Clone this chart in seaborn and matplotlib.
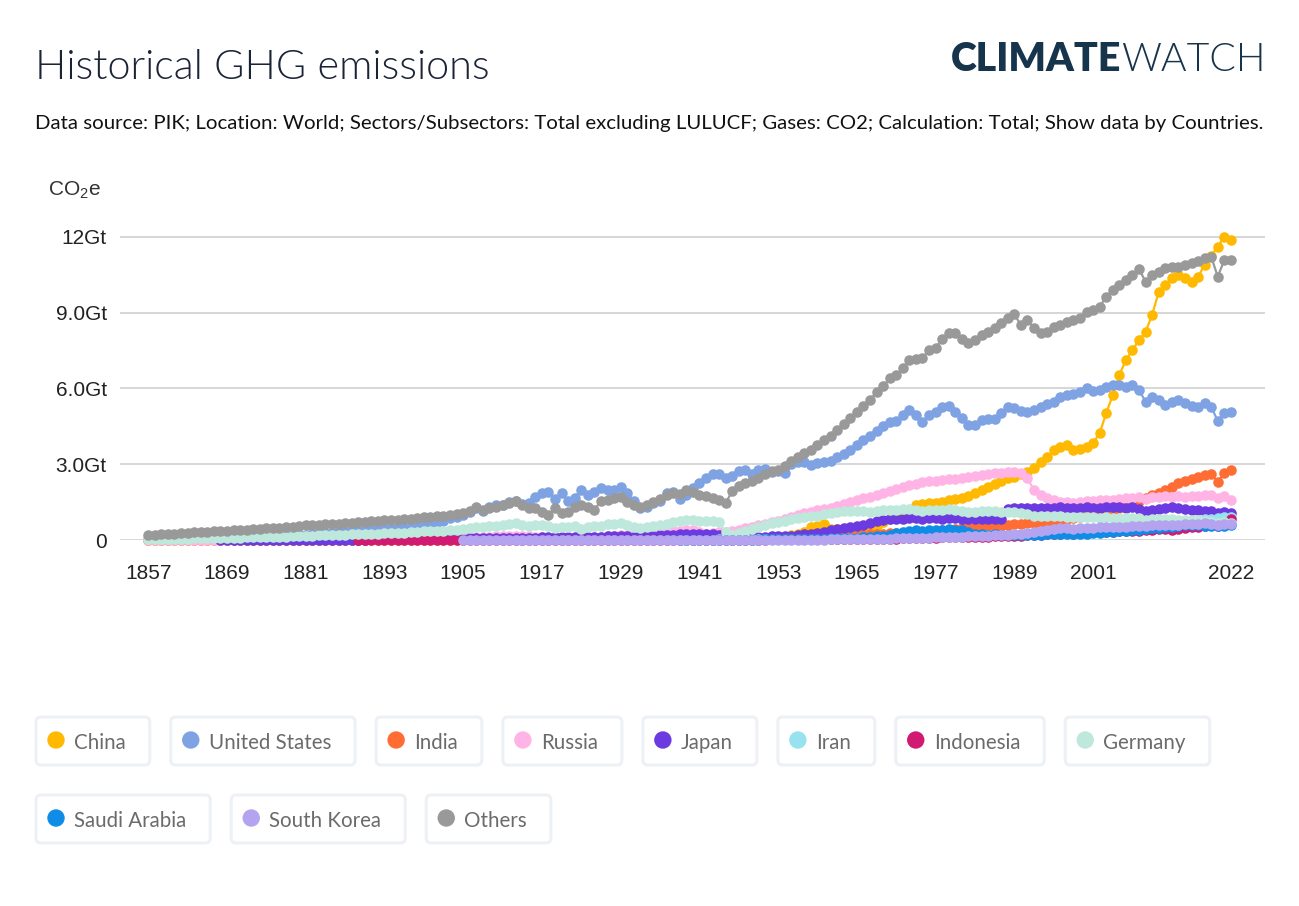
import matplotlib
matplotlib.use("Agg")
import matplotlib.pyplot as plt
from matplotlib.patches import FancyBboxPatch, Circle
import numpy as np
import pandas as pd
import seaborn as sns

# values in Gt CO2e, one per year 1857..2022 (rows of 10 years)
years = list(range(1857, 2023))

china = [
    0.01, 0.01, 0.01, 0.01, 0.01, 0.01, 0.01, 0.01, 0.01, 0.01,
    0.01, 0.01, 0.01, 0.01, 0.01, 0.01, 0.01, 0.01, 0.01, 0.01,
    0.01, 0.01, 0.01, 0.01, 0.01, 0.01, 0.01, 0.01, 0.01, 0.01,
    0.01, 0.01, 0.01, 0.01, 0.01, 0.01, 0.01, 0.01, 0.01, 0.01,
    0.01, 0.01, 0.01, 0.01, 0.01, 0.01, 0.01, 0.01, 0.02, 0.02,
    0.02, 0.02, 0.02, 0.02, 0.02, 0.02, 0.03, 0.03, 0.03, 0.03,
    0.03, 0.03, 0.03, 0.03, 0.03, 0.03, 0.03, 0.03, 0.03, 0.03,
    0.03, 0.03, 0.03, 0.03, 0.03, 0.03, 0.04, 0.04, 0.04, 0.04,
    0.04, 0.04, 0.05, 0.05, 0.05, 0.05, 0.05, 0.04, 0.03, 0.03,
    0.03, 0.04, 0.04, 0.06, 0.07, 0.08, 0.10, 0.12, 0.18, 0.22,
    0.30, 0.50, 0.56, 0.62, 0.45, 0.42, 0.44, 0.46, 0.50, 0.55,
    0.50, 0.56, 0.70, 0.85, 0.95, 1.02, 1.10, 1.40, 1.42, 1.45,
    1.48, 1.52, 1.58, 1.62, 1.66, 1.75, 1.85, 1.98, 2.11, 2.22,
    2.32, 2.45, 2.51, 2.60, 2.71, 2.84, 3.10, 3.30, 3.55, 3.70,
    3.76, 3.56, 3.62, 3.70, 3.83, 4.23, 5.02, 5.74, 6.53, 7.13,
    7.52, 7.92, 8.25, 8.91, 9.83, 10.10, 10.36, 10.50, 10.36, 10.23,
    10.43, 10.89, 11.25, 11.62, 12.01, 11.88,
]

united_states = [
    0.03, 0.03, 0.04, 0.04, 0.04, 0.04, 0.05, 0.05, 0.05, 0.06,
    0.07, 0.07, 0.08, 0.09, 0.09, 0.10, 0.11, 0.11, 0.11, 0.12,
    0.13, 0.14, 0.16, 0.19, 0.21, 0.24, 0.27, 0.28, 0.28, 0.30,
    0.33, 0.37, 0.36, 0.40, 0.42, 0.45, 0.46, 0.43, 0.48, 0.49,
    0.52, 0.56, 0.62, 0.67, 0.72, 0.76, 0.88, 0.90, 0.98, 1.10,
    1.25, 1.15, 1.30, 1.39, 1.38, 1.50, 1.55, 1.42, 1.48, 1.70,
    1.85, 1.90, 1.62, 1.85, 1.55, 1.68, 2.00, 1.80, 1.90, 2.05,
    1.98, 1.98, 2.10, 1.86, 1.55, 1.25, 1.30, 1.45, 1.55, 1.85,
    1.92, 1.62, 1.80, 2.05, 2.25, 2.45, 2.60, 2.62, 2.45, 2.55,
    2.75, 2.78, 2.62, 2.77, 2.80, 2.71, 2.75, 2.64, 3.00, 3.10,
    3.08, 2.97, 3.04, 3.10, 3.12, 3.30, 3.42, 3.58, 3.76, 3.96,
    4.10, 4.30, 4.50, 4.69, 4.72, 4.95, 5.15, 4.95, 4.69, 4.95,
    5.08, 5.28, 5.30, 5.08, 4.82, 4.55, 4.55, 4.75, 4.78, 4.78,
    5.02, 5.25, 5.22, 5.12, 5.05, 5.15, 5.28, 5.38, 5.48, 5.65,
    5.74, 5.80, 5.85, 6.02, 5.90, 5.95, 6.05, 6.14, 6.12, 6.07,
    6.14, 5.94, 5.48, 5.68, 5.54, 5.35, 5.48, 5.54, 5.41, 5.30,
    5.25, 5.41, 5.28, 4.71, 5.02, 5.08,
]

india = [
    0.01, 0.01, 0.01, 0.01, 0.01, 0.01, 0.01, 0.01, 0.01, 0.01,
    0.01, 0.01, 0.01, 0.01, 0.01, 0.01, 0.01, 0.01, 0.01, 0.01,
    0.01, 0.01, 0.01, 0.01, 0.01, 0.01, 0.01, 0.01, 0.01, 0.01,
    0.01, 0.01, 0.01, 0.01, 0.02, 0.02, 0.02, 0.02, 0.02, 0.02,
    0.02, 0.02, 0.02, 0.03, 0.03, 0.03, 0.03, 0.03, 0.03, 0.03,
    0.04, 0.04, 0.04, 0.04, 0.04, 0.04, 0.05, 0.05, 0.05, 0.05,
    0.05, 0.05, 0.05, 0.05, 0.05, 0.05, 0.05, 0.05, 0.05, 0.06,
    0.06, 0.06, 0.06, 0.06, 0.06, 0.05, 0.05, 0.06, 0.06, 0.06,
    0.07, 0.07, 0.07, 0.07, 0.07, 0.07, 0.07, 0.07, 0.07, 0.07,
    0.07, 0.07, 0.07, 0.07, 0.08, 0.08, 0.08, 0.09, 0.09, 0.10,
    0.10, 0.11, 0.12, 0.13, 0.14, 0.15, 0.17, 0.18, 0.20, 0.21,
    0.22, 0.23, 0.24, 0.26, 0.27, 0.28, 0.30, 0.31, 0.33, 0.35,
    0.36, 0.38, 0.41, 0.44, 0.46, 0.48, 0.50, 0.52, 0.54, 0.56,
    0.57, 0.60, 0.62, 0.64, 0.66, 0.69, 0.71, 0.74, 0.77, 0.80,
    0.84, 0.88, 0.92, 0.96, 1.00, 1.05, 1.10, 1.18, 1.25, 1.33,
    1.42, 1.55, 1.68, 1.78, 1.88, 2.00, 2.11, 2.25, 2.32, 2.42,
    2.51, 2.57, 2.60, 2.31, 2.64, 2.77,
]

russia = [
    0.01, 0.01, 0.01, 0.01, 0.01, 0.01, 0.01, 0.01, 0.01, 0.01,
    0.01, 0.01, 0.01, 0.02, 0.02, 0.02, 0.02, 0.02, 0.02, 0.02,
    0.02, 0.02, 0.03, 0.03, 0.03, 0.03, 0.03, 0.04, 0.04, 0.04,
    0.04, 0.05, 0.05, 0.05, 0.05, 0.06, 0.06, 0.07, 0.07, 0.08,
    0.08, 0.09, 0.10, 0.10, 0.10, 0.10, 0.10, 0.11, 0.11, 0.12,
    0.13, 0.13, 0.13, 0.14, 0.14, 0.15, 0.16, 0.15, 0.14, 0.13,
    0.10, 0.06, 0.05, 0.05, 0.06, 0.06, 0.07, 0.08, 0.10, 0.12,
    0.14, 0.16, 0.18, 0.21, 0.24, 0.26, 0.28, 0.30, 0.32, 0.35,
    0.36, 0.37, 0.38, 0.40, 0.33, 0.25, 0.28, 0.32, 0.30, 0.35,
    0.40, 0.46, 0.52, 0.58, 0.64, 0.70, 0.76, 0.84, 0.92, 1.00,
    1.06, 1.12, 1.18, 1.22, 1.28, 1.35, 1.42, 1.50, 1.58, 1.65,
    1.72, 1.80, 1.88, 1.95, 2.02, 2.10, 2.18, 2.22, 2.28, 2.32,
    2.35, 2.38, 2.40, 2.42, 2.44, 2.48, 2.52, 2.57, 2.60, 2.64,
    2.66, 2.70, 2.71, 2.64, 2.44, 1.98, 1.78, 1.68, 1.60, 1.52,
    1.50, 1.48, 1.52, 1.55, 1.56, 1.58, 1.58, 1.60, 1.62, 1.65,
    1.67, 1.70, 1.62, 1.70, 1.72, 1.74, 1.72, 1.73, 1.70, 1.74,
    1.76, 1.78, 1.78, 1.65, 1.75, 1.58,
]

japan = [
    None, None, None, None, None, None, None, None, None, None,
    None, 0.00, 0.00, 0.00, 0.00, 0.00, 0.00, 0.00, 0.00, 0.00,
    0.00, 0.00, 0.00, 0.00, 0.00, 0.00, 0.01, 0.01, 0.01, 0.01,
    0.01, 0.01, 0.01, 0.01, 0.02, 0.02, 0.02, 0.02, 0.02, 0.02,
    0.03, 0.03, 0.03, 0.04, 0.04, 0.04, 0.05, 0.05, 0.05, 0.06,
    0.06, 0.06, 0.06, 0.06, 0.07, 0.07, 0.08, 0.08, 0.08, 0.09,
    0.10, 0.10, 0.11, 0.11, 0.11, 0.12, 0.12, 0.12, 0.13, 0.13,
    0.14, 0.14, 0.15, 0.14, 0.13, 0.14, 0.15, 0.16, 0.18, 0.19,
    0.21, 0.22, 0.23, 0.24, 0.24, 0.23, 0.22, 0.20, 0.08, 0.06,
    0.08, 0.09, 0.10, 0.11, 0.13, 0.14, 0.15, 0.15, 0.16, 0.18,
    0.22, 0.24, 0.28, 0.32, 0.38, 0.42, 0.46, 0.50, 0.54, 0.59,
    0.66, 0.74, 0.79, 0.82, 0.83, 0.85, 0.88, 0.86, 0.84, 0.86,
    0.86, 0.84, 0.87, 0.86, 0.84, 0.82, 0.82, 0.85, 0.84, 0.83,
    0.84, 1.22, 1.25, 1.25, 1.26, 1.27, 1.26, 1.28, 1.27, 1.29,
    1.28, 1.25, 1.27, 1.29, 1.27, 1.28, 1.30, 1.29, 1.29, 1.27,
    1.30, 1.22, 1.15, 1.20, 1.24, 1.28, 1.30, 1.25, 1.22, 1.20,
    1.18, 1.16, 1.14, 1.08, 1.10, 1.08,
]

iran = [
    None, None, None, None, None, None, None, None, None, None,
    None, None, None, None, None, None, None, None, None, None,
    None, None, None, None, None, None, None, None, None, None,
    None, None, None, None, None, None, None, None, None, None,
    None, None, None, None, None, None, None, None, None, None,
    None, None, None, None, None, None, 0.00, 0.00, 0.00, 0.00,
    0.00, 0.00, 0.00, 0.00, 0.00, 0.00, 0.01, 0.01, 0.01, 0.01,
    0.01, 0.01, 0.01, 0.01, 0.01, 0.01, 0.01, 0.01, 0.01, 0.01,
    0.01, 0.01, 0.01, 0.01, 0.01, 0.01, 0.01, 0.02, 0.02, 0.02,
    0.02, 0.02, 0.02, 0.02, 0.02, 0.02, 0.02, 0.02, 0.03, 0.03,
    0.03, 0.03, 0.04, 0.04, 0.04, 0.05, 0.05, 0.06, 0.06, 0.07,
    0.08, 0.09, 0.10, 0.12, 0.14, 0.16, 0.18, 0.18, 0.19, 0.20,
    0.20, 0.18, 0.16, 0.14, 0.13, 0.15, 0.17, 0.18, 0.18, 0.19,
    0.20, 0.21, 0.22, 0.24, 0.26, 0.27, 0.29, 0.30, 0.31, 0.32,
    0.33, 0.35, 0.37, 0.40, 0.42, 0.45, 0.48, 0.52, 0.55, 0.58,
    0.61, 0.64, 0.66, 0.68, 0.70, 0.71, 0.72, 0.74, 0.75, 0.77,
    0.80, 0.82, 0.84, 0.86, 0.90, 0.92,
]

indonesia = [
    None, None, None, None, None, None, None, None, None, None,
    None, None, None, None, None, None, None, None, None, None,
    None, None, None, None, None, None, None, None, None, None,
    None, None, 0.00, 0.00, 0.00, 0.00, 0.00, 0.00, 0.00, 0.00,
    0.00, 0.00, 0.00, 0.00, 0.00, 0.00, 0.00, 0.00, 0.00, 0.00,
    0.00, 0.00, 0.00, 0.00, 0.00, 0.01, 0.01, 0.01, 0.01, 0.01,
    0.01, 0.01, 0.01, 0.01, 0.01, 0.01, 0.01, 0.01, 0.01, 0.01,
    0.01, 0.01, 0.01, 0.01, 0.01, 0.01, 0.01, 0.01, 0.01, 0.01,
    0.01, 0.01, 0.01, 0.01, 0.01, 0.01, 0.01, 0.00, 0.00, 0.00,
    0.00, 0.01, 0.01, 0.01, 0.01, 0.02, 0.02, 0.02, 0.02, 0.02,
    0.02, 0.02, 0.02, 0.02, 0.03, 0.03, 0.03, 0.03, 0.03, 0.03,
    0.03, 0.04, 0.04, 0.05, 0.05, 0.06, 0.07, 0.07, 0.08, 0.09,
    0.09, 0.10, 0.11, 0.11, 0.12, 0.12, 0.13, 0.13, 0.13, 0.14,
    0.14, 0.15, 0.15, 0.16, 0.18, 0.19, 0.20, 0.22, 0.23, 0.25,
    0.26, 0.24, 0.26, 0.28, 0.30, 0.31, 0.32, 0.33, 0.34, 0.35,
    0.36, 0.37, 0.38, 0.40, 0.42, 0.42, 0.40, 0.45, 0.47, 0.50,
    0.53, 0.57, 0.60, 0.56, 0.64, 0.85,
]

germany = [
    0.03, 0.03, 0.04, 0.04, 0.04, 0.05, 0.05, 0.06, 0.06, 0.07,
    0.07, 0.08, 0.08, 0.09, 0.09, 0.10, 0.11, 0.11, 0.12, 0.12,
    0.12, 0.13, 0.14, 0.15, 0.16, 0.17, 0.18, 0.19, 0.19, 0.20,
    0.21, 0.22, 0.23, 0.24, 0.25, 0.25, 0.26, 0.27, 0.28, 0.29,
    0.31, 0.32, 0.34, 0.36, 0.36, 0.36, 0.38, 0.40, 0.43, 0.47,
    0.50, 0.53, 0.54, 0.56, 0.59, 0.62, 0.66, 0.58, 0.55, 0.58,
    0.58, 0.56, 0.48, 0.52, 0.50, 0.55, 0.42, 0.52, 0.56, 0.55,
    0.62, 0.63, 0.66, 0.60, 0.52, 0.47, 0.50, 0.55, 0.60, 0.65,
    0.70, 0.74, 0.79, 0.78, 0.76, 0.75, 0.76, 0.73, 0.30, 0.20,
    0.28, 0.36, 0.44, 0.52, 0.60, 0.66, 0.70, 0.75, 0.82, 0.88,
    0.92, 0.94, 0.97, 1.03, 1.06, 1.10, 1.14, 1.15, 1.16, 1.15,
    1.12, 1.16, 1.18, 1.20, 1.20, 1.21, 1.22, 1.19, 1.15, 1.20,
    1.18, 1.20, 1.22, 1.18, 1.15, 1.12, 1.12, 1.13, 1.14, 1.14,
    1.12, 1.12, 1.10, 1.06, 1.02, 0.97, 0.96, 0.94, 0.94, 0.96,
    0.93, 0.92, 0.90, 0.90, 0.91, 0.89, 0.90, 0.89, 0.87, 0.88,
    0.86, 0.86, 0.80, 0.84, 0.82, 0.82, 0.84, 0.80, 0.80, 0.81,
    0.80, 0.77, 0.72, 0.66, 0.70, 0.68,
]

saudi_arabia = [
    None, None, None, None, None, None, None, None, None, None,
    None, None, None, None, None, None, None, None, None, None,
    None, None, None, None, None, None, None, None, None, None,
    None, None, None, None, None, None, None, None, None, None,
    None, None, None, None, None, None, None, None, None, None,
    None, None, None, None, None, None, None, None, None, None,
    None, None, None, None, None, None, None, None, None, None,
    None, None, None, None, None, None, None, None, None, None,
    None, 0.00, 0.00, 0.00, 0.00, 0.00, 0.00, 0.00, 0.00, 0.00,
    0.01, 0.01, 0.01, 0.01, 0.02, 0.02, 0.02, 0.03, 0.03, 0.03,
    0.04, 0.04, 0.05, 0.05, 0.06, 0.06, 0.07, 0.08, 0.09, 0.10,
    0.12, 0.14, 0.16, 0.20, 0.26, 0.30, 0.35, 0.38, 0.35, 0.38,
    0.40, 0.40, 0.42, 0.40, 0.38, 0.30, 0.25, 0.24, 0.20, 0.22,
    0.20, 0.21, 0.20, 0.18, 0.19, 0.20, 0.21, 0.22, 0.22, 0.23,
    0.23, 0.24, 0.24, 0.25, 0.26, 0.27, 0.30, 0.32, 0.35, 0.36,
    0.38, 0.40, 0.42, 0.46, 0.48, 0.52, 0.53, 0.57, 0.60, 0.60,
    0.58, 0.55, 0.55, 0.54, 0.56, 0.58,
]

south_korea = [
    None, None, None, None, None, None, None, None, None, None,
    None, None, None, None, None, None, None, None, None, None,
    None, None, None, None, None, None, None, None, None, None,
    None, None, None, None, None, None, None, None, None, None,
    None, None, None, None, None, None, None, None, 0.00, 0.00,
    0.00, 0.00, 0.00, 0.00, 0.00, 0.00, 0.00, 0.00, 0.00, 0.00,
    0.00, 0.00, 0.00, 0.00, 0.00, 0.00, 0.00, 0.00, 0.00, 0.00,
    0.00, 0.00, 0.00, 0.00, 0.00, 0.01, 0.01, 0.01, 0.01, 0.01,
    0.01, 0.01, 0.01, 0.01, 0.01, 0.01, 0.01, 0.01, 0.00, 0.00,
    0.00, 0.00, 0.00, 0.00, 0.00, 0.00, 0.01, 0.01, 0.01, 0.01,
    0.01, 0.01, 0.01, 0.01, 0.02, 0.02, 0.02, 0.02, 0.03, 0.03,
    0.04, 0.04, 0.05, 0.05, 0.06, 0.07, 0.07, 0.08, 0.08, 0.09,
    0.10, 0.11, 0.12, 0.13, 0.13, 0.14, 0.15, 0.16, 0.17, 0.18,
    0.19, 0.21, 0.23, 0.25, 0.28, 0.31, 0.35, 0.38, 0.42, 0.46,
    0.49, 0.44, 0.47, 0.47, 0.49, 0.50, 0.51, 0.52, 0.52, 0.53,
    0.54, 0.55, 0.55, 0.58, 0.60, 0.61, 0.61, 0.61, 0.62, 0.62,
    0.64, 0.66, 0.64, 0.60, 0.63, 0.62,
]

others = [
    0.20, 0.21, 0.23, 0.24, 0.25, 0.27, 0.28, 0.30, 0.31, 0.33,
    0.34, 0.35, 0.36, 0.38, 0.40, 0.41, 0.43, 0.44, 0.46, 0.47,
    0.48, 0.50, 0.52, 0.55, 0.58, 0.59, 0.61, 0.62, 0.63, 0.64,
    0.66, 0.68, 0.70, 0.72, 0.74, 0.76, 0.78, 0.78, 0.80, 0.83,
    0.85, 0.88, 0.91, 0.93, 0.95, 0.97, 0.99, 1.03, 1.08, 1.15,
    1.30, 1.20, 1.25, 1.32, 1.38, 1.45, 1.55, 1.40, 1.28, 1.26,
    1.12, 1.00, 1.25, 1.08, 1.12, 1.32, 1.40, 1.32, 1.20, 1.55,
    1.60, 1.65, 1.70, 1.50, 1.40, 1.30, 1.38, 1.50, 1.62, 1.80,
    1.85, 1.82, 1.98, 1.92, 1.80, 1.75, 1.68, 1.60, 1.45, 1.95,
    2.12, 2.25, 2.35, 2.45, 2.62, 2.72, 2.78, 2.95, 3.12, 3.30,
    3.45, 3.55, 3.76, 3.95, 4.10, 4.36, 4.60, 4.85, 5.05, 5.30,
    5.55, 5.85, 6.10, 6.40, 6.55, 6.80, 7.13, 7.15, 7.21, 7.52,
    7.59, 7.95, 8.19, 8.19, 7.95, 7.79, 7.92, 8.10, 8.25, 8.38,
    8.58, 8.78, 8.94, 8.51, 8.71, 8.38, 8.19, 8.25, 8.45, 8.52,
    8.62, 8.71, 8.78, 9.02, 9.11, 9.24, 9.64, 9.90, 10.10, 10.30,
    10.50, 10.73, 10.23, 10.50, 10.63, 10.76, 10.80, 10.83, 10.90, 10.96,
    11.05, 11.16, 11.22, 10.43, 11.09, 11.09,
]

countries = ["China", "United States", "India", "Russia", "Japan", "Iran",
             "Indonesia", "Germany", "Saudi Arabia", "South Korea", "Others"]
values = [china, united_states, india, russia, japan, iran,
          indonesia, germany, saudi_arabia, south_korea, others]
colors = ["#FFB900", "#7FA2E2", "#FF6D35", "#FFB4E5", "#6B3AE0", "#97E2EE",
          "#D11A72", "#BDE8DB", "#0F8CE6", "#B4A4F0", "#999999"]

x_ticks = [1857, 1869, 1881, 1893, 1905, 1917, 1929, 1941, 1953, 1965, 1977, 1989, 2001, 2022]
y_ticks = [0, 3, 6, 9, 12]
y_labels = ["0", "3.0Gt", "6.0Gt", "9.0Gt", "12Gt"]

frames = []
for name, vals in zip(countries, values):
    assert len(vals) == len(years), name
    frames.append(pd.DataFrame({"year": years, "value": vals, "country": name}))
df = pd.concat(frames, ignore_index=True)
df["value"] = pd.to_numeric(df["value"])
df = df.dropna()

sns.set_style("white")
plt.rcParams["font.family"] = ["Lato", "DejaVu Sans"]
plt.rcParams["mathtext.fontset"] = "custom"
plt.rcParams["mathtext.rm"] = "Liberation Sans"

W, H = 1299, 906
fig = plt.figure(figsize=(W / 100, H / 100), dpi=100)

# plot area: y=0 at 540px, 25.25px per Gt; x from 120px to 1265px
ax = fig.add_axes([120 / W, (H - 540) / H, (1265 - 120) / W, 12.5 * 25.25 / H])
sns.lineplot(data=df, x="year", y="value", hue="country", hue_order=countries,
             palette=dict(zip(countries, colors)), marker="o", markersize=7.6,
             markeredgewidth=0, linewidth=1.6, errorbar=None, legend=False, ax=ax)
for ln in ax.lines:
    ln.set_clip_on(False)

ax.set_xlim(1852.7, 2027.2)
ax.set_ylim(0, 12.5)
ax.set_xticks(x_ticks)
ax.set_xticklabels([str(y) for y in x_ticks], fontfamily="Liberation Sans")
ax.set_yticks(y_ticks)
ax.set_yticklabels(y_labels, fontfamily="Liberation Sans")
ax.tick_params(axis="x", length=8.5, width=1.3, color="#555555", pad=9,
               labelsize=15, labelcolor="#222222")
ax.tick_params(axis="y", length=0, pad=9.5, labelsize=15, labelcolor="#222222")
ax.grid(axis="y", color="#cfcfcf", linewidth=1.2)
ax.grid(axis="x", visible=False)
ax.set_xlabel("")
ax.set_ylabel("")
for s in ax.spines.values():
    s.set_visible(False)

# overlay in pixel coordinates for header and legend
ov = fig.add_axes([0, 0, 1, 1])
ov.set_xlim(0, W)
ov.set_ylim(H, 0)
ov.axis("off")
ov.patch.set_alpha(0)

ov.text(35, 79, "Historical GHG emissions", fontsize=29.8, fontweight=300,
        color="#1b2437", va="baseline", ha="left")
ov.text(35, 129, "Data source: PIK; Location: World; Sectors/Subsectors: Total excluding LULUCF; "
        "Gases: CO2; Calculation: Total; Show data by Countries.",
        fontsize=14.7, color="#111111", va="baseline", ha="left")
ov.text(48, 195, "CO$_2$e", fontsize=15, fontfamily="Liberation Sans",
        color="#333333", va="baseline", ha="left")

renderer = fig.canvas.get_renderer()
watch = ov.text(1266, 71, "WATCH", fontsize=28.3, fontweight=300,
                color="#17344d", va="baseline", ha="right")
wx0 = watch.get_window_extent(renderer).x0
ov.text(wx0, 71, "CLIMATE", fontsize=28.3, fontweight="heavy",
        color="#17344d", va="baseline", ha="right")

# legend boxes
lx, ly = 36, 741
x, y = lx, ly
for name, col in zip(countries, colors):
    t = ov.text(0, 0, name, fontsize=14.8, color="#6b6b6b", va="center", ha="left")
    tw = t.get_window_extent(renderer).width
    bw = 38 + tw + 24
    if x + bw > 1240:
        x = lx
        y += 78
    t.set_position((x + 38, y + 2))
    ov.add_patch(FancyBboxPatch((x, y - 24), bw, 48,
                                boxstyle="round,pad=0,rounding_size=5",
                                fc="white", ec="#edf0f5", lw=2.2))
    ov.add_patch(Circle((x + 20, y - 1), 8, color=col))
    x += bw + 21

fig.savefig("out.png", dpi=100)
plt.close()
